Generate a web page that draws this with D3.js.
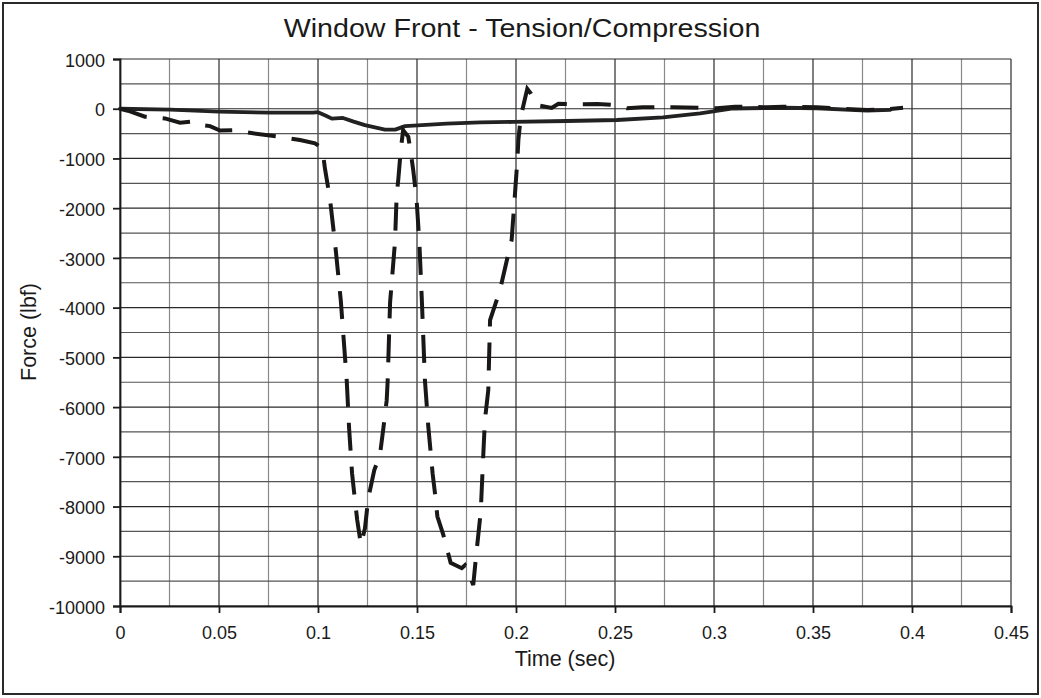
<!DOCTYPE html>
<html><head><meta charset="utf-8">
<script src="https://cdn.jsdelivr.net/npm/d3@7"></script>
<style>body{margin:0;background:#fff}svg{display:block}</style>
</head><body>
<svg id="c" width="1041" height="698"></svg>
<script>
const title = "Window Front - Tension/Compression";
const xLabel = "Time (sec)";
const yLabel = "Force (lbf)";
const xTicks = [0,0.05,0.1,0.15,0.2,0.25,0.3,0.35,0.4,0.45];
const yTicks = [1000,0,-1000,-2000,-3000,-4000,-5000,-6000,-7000,-8000,-9000,-10000];

const solidT = [0,0.0253,0.05,0.0753,0.0975,0.1,0.104,0.107,0.1126,0.118,0.1237,0.1338,0.139,0.144,0.165,0.182,0.1985,0.2258,0.251,0.2742,0.293,0.3096,0.3348,0.352,0.3773,0.389];
const solidF = [0,-20,-60,-80,-80,-70,-140,-200,-185,-260,-330,-420,-420,-350,-300,-275,-265,-247,-227,-175,-95,5,20,10,-40,-25];

const dashT = [0,0.004,0.0126,0.0227,0.0303,0.0354,0.037,0.0455,0.0505,0.057,0.0672,0.0808,0.0909,0.0985,0.1005,0.1024,0.1035,0.106,0.1086,0.1115,0.1145,0.1157,0.1172,0.1182,0.1198,0.1217,0.1237,0.1254,0.1284,0.1313,0.133,0.1347,0.1352,0.1364,0.1389,0.1397,0.1406,0.1418,0.143,0.1456,0.1468,0.1481,0.1498,0.1512,0.1525,0.154,0.1557,0.1579,0.1591,0.1603,0.1633,0.167,0.1726,0.1742,0.1759,0.1784,0.1798,0.1813,0.1822,0.1832,0.1843,0.186,0.1869,0.1919,0.196,0.1978,0.1995,0.2007,0.2012,0.2024,0.2057,0.2076,0.2106,0.218,0.2214,0.2323,0.241,0.249,0.256,0.264,0.2793,0.3014,0.3106,0.3268,0.3348,0.352,0.3773,0.3874,0.3955];
const dashF = [0,-40,-160,-195,-280,-260,-305,-350,-440,-430,-495,-565,-630,-695,-750,-865,-1200,-1800,-2700,-3850,-5460,-6420,-7330,-7700,-8270,-8770,-8440,-7830,-7270,-6960,-6430,-5860,-5460,-3900,-2670,-1770,-1400,-830,-430,-565,-865,-1235,-1835,-2700,-3900,-5460,-6390,-7340,-7740,-8200,-8570,-9130,-9240,-9180,-9310,-9580,-9010,-8440,-8100,-7200,-6260,-5660,-4250,-3650,-2940,-2640,-1700,-1030,-630,-160,400,300,75,15,100,90,95,75,10,28,28,10,40,30,40,28,-25,-10,20];

const svg = d3.select("#c");
const font = "Liberation Sans, Arial, sans-serif";
svg.append("rect").attr("x",3).attr("y",3).attr("width",1035).attr("height",691)
  .attr("fill","#fff").attr("stroke","#2a2a2a").attr("stroke-width",2);

const x = d3.scaleLinear().domain([0,0.45]).range([120,1011]);
const y = d3.scaleLinear().domain([-10000,1000]).range([606,59]);

// grid
const g = svg.append("g");
d3.range(0,0.4501,0.025).forEach((v,i)=>{
  g.append("line").attr("x1",x(v)).attr("x2",x(v)).attr("y1",y(1000)).attr("y2",y(-10000))
   .attr("stroke", i%2===0 ? "#2a2a2a" : "#8a8a8a").attr("stroke-width",1.2);
});
d3.range(-10000,1001,500).forEach((v,i)=>{
  g.append("line").attr("x1",x(0)).attr("x2",x(0.45)).attr("y1",y(v)).attr("y2",y(v))
   .attr("stroke", i%2===0 ? "#2a2a2a" : "#555").attr("stroke-width",1.2);
});

const xAxis = svg.append("g").attr("transform","translate(0,606)")
  .call(d3.axisBottom(x).tickValues(xTicks).tickSize(7).tickPadding(13).tickFormat(d=>String(+d.toFixed(2))));
const yAxis = svg.append("g").attr("transform","translate(120,0)")
  .call(d3.axisLeft(y).tickValues(yTicks).tickSize(7).tickPadding(8).tickFormat(d=>String(d)));
[xAxis,yAxis].forEach(a=>{
  a.selectAll("path").attr("stroke","#1a1a1a").attr("stroke-width",1.8);
  a.selectAll("line").attr("stroke","#1a1a1a").attr("stroke-width",1.8);
  a.selectAll("text").attr("font-family",font).attr("font-size",18).attr("fill","#1a1a1a");
});
yAxis.selectAll("text").attr("dy","0.4em");

const line = d3.line().x(d=>x(d[0])).y(d=>y(d[1]));
svg.append("path").datum(solidT.map((t,i)=>[t,solidF[i]]))
  .attr("d",line).attr("fill","none").attr("stroke","#222").attr("stroke-width",3.8)
  .attr("stroke-linejoin","round").attr("stroke-linecap","round");
svg.append("path").datum(dashT.map((t,i)=>[t,dashF[i]]))
  .attr("d",line).attr("fill","none").attr("stroke","#1a1717").attr("stroke-width",4)
  .attr("stroke-dasharray","28,16").attr("stroke-linejoin","miter");

svg.append("text").attr("transform","translate(522,37) scale(1.08,1)").attr("text-anchor","middle")
  .attr("font-family",font).attr("font-size",26.5).attr("fill","#1a1a1a").text(title);
svg.append("text").attr("x",565).attr("y",666).attr("text-anchor","middle")
  .attr("font-family",font).attr("font-size",21.5).attr("fill","#1a1a1a").text(xLabel);
svg.append("text").attr("transform","translate(36,332) rotate(-90)").attr("text-anchor","middle")
  .attr("font-family",font).attr("font-size",21.5).attr("fill","#1a1a1a").text(yLabel);
</script>
</body></html>
